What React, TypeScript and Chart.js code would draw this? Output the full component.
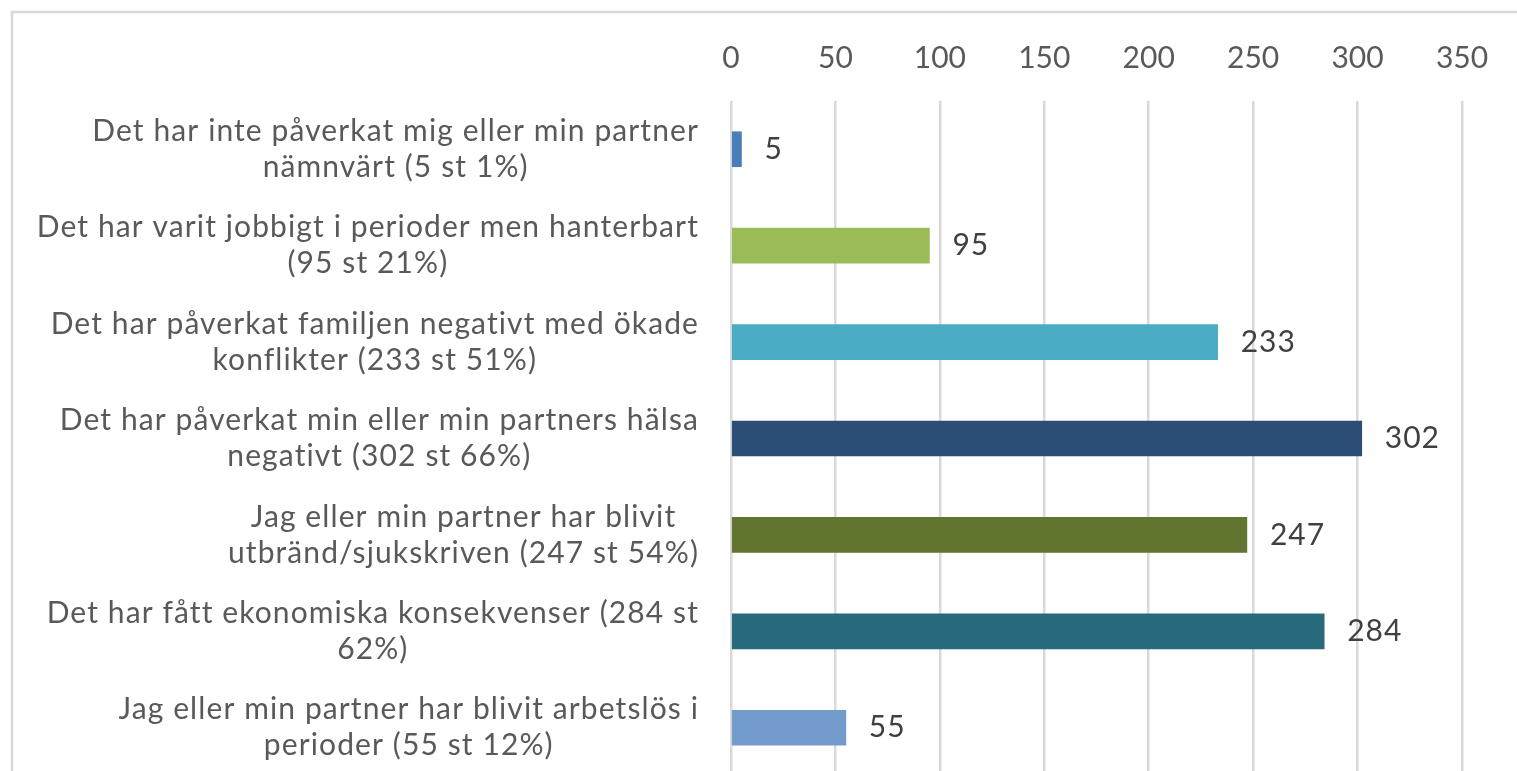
import React, { useEffect, useRef } from "react";
import { Chart, registerables } from "chart.js";

Chart.register(...registerables);

const categories: string[][] = [
  ["Det har inte påverkat mig eller min partner", "nämnvärt (5 st 1%)"],
  ["Det har varit jobbigt i perioder men hanterbart", "(95 st 21%)"],
  ["Det har påverkat familjen negativt med ökade", "konflikter (233 st 51%)"],
  ["Det har påverkat min eller min partners hälsa", "negativt (302 st 66%)"],
  ["Jag eller min partner har blivit", "utbränd/sjukskriven (247 st 54%)"],
  ["Det har fått ekonomiska konsekvenser (284 st", "62%)"],
  ["Jag eller min partner har blivit arbetslös i", "perioder (55 st 12%)"],
];

const values: number[] = [5, 95, 233, 302, 247, 284, 55];

const barColors: string[] = [
  "#4A7EBB",
  "#9BBB59",
  "#4BACC6",
  "#2C4D75",
  "#5F7530",
  "#276A7C",
  "#729ACA",
];

const xMin = 0;
const xMax = 350;
const xStep = 50;

const FONT = "Lato, 'Open Sans', sans-serif";
const FONT_SIZE = 30;

const framePlugin = {
  id: "frame",
  beforeDraw(chart: any) {
    const ctx = chart.ctx;
    ctx.save();
    ctx.strokeStyle = "#D9D9D9";
    ctx.lineWidth = 2.5;
    ctx.beginPath();
    ctx.moveTo(12, chart.height + 5);
    ctx.lineTo(12, 12);
    ctx.lineTo(chart.width + 5, 12);
    ctx.stroke();
    ctx.restore();
  },
};

const categoryLabelPlugin = {
  id: "categoryLabels",
  afterDraw(chart: any) {
    const ctx = chart.ctx;
    const yScale = chart.scales.y;
    const labels = chart.data.labels as string[][];
    const rightEdge = chart.chartArea.left - 32;
    const lineH = 36;
    ctx.save();
    ctx.font = `${FONT_SIZE}px ${FONT}`;
    (ctx as any).letterSpacing = "1.1px";
    ctx.fillStyle = "#595959";
    ctx.textAlign = "center";
    ctx.textBaseline = "middle";
    labels.forEach((lines, i) => {
      const yc = yScale.getPixelForValue(i);
      const maxW = Math.max(...lines.map((l) => ctx.measureText(l).width));
      const cx = rightEdge - maxW / 2;
      const startY = yc - ((lines.length - 1) * lineH) / 2;
      lines.forEach((l, j) => ctx.fillText(l, cx, startY + j * lineH));
    });
    ctx.restore();
  },
};

const valueLabelPlugin = {
  id: "valueLabels",
  afterDatasetsDraw(chart: any) {
    const ctx = chart.ctx;
    const meta = chart.getDatasetMeta(0);
    const data = chart.data.datasets[0].data as number[];
    ctx.save();
    ctx.font = `${FONT_SIZE}px ${FONT}`;
    (ctx as any).letterSpacing = "1px";
    ctx.fillStyle = "#404040";
    ctx.textAlign = "left";
    ctx.textBaseline = "middle";
    meta.data.forEach((bar: any, i: number) => {
      ctx.fillText(String(data[i]), bar.x + 23, bar.y);
    });
    ctx.restore();
  },
};

export default function App() {
  const canvasRef = useRef<HTMLCanvasElement | null>(null);

  useEffect(() => {
    if (!canvasRef.current) return;
    const chart = new Chart(canvasRef.current, {
      type: "bar",
      data: {
        labels: categories,
        datasets: [
          {
            data: values,
            backgroundColor: barColors,
            borderWidth: 0,
            barThickness: 35,
          },
        ],
      },
      options: {
        indexAxis: "y",
        responsive: false,
        animation: false,
        devicePixelRatio: 1,
        layout: {
          padding: { left: 731, right: 55, top: 12, bottom: 24 },
        },
        plugins: {
          legend: { display: false },
          tooltip: { enabled: false },
          title: { display: false },
        },
        scales: {
          x: {
            position: "top",
            min: xMin,
            max: xMax,
            ticks: {
              stepSize: xStep,
              color: "#595959",
              font: { family: FONT, size: FONT_SIZE },
              padding: 25,
            },
            grid: {
              color: "#D9D9D9",
              lineWidth: 2.5,
              drawTicks: false,
            },
            border: { display: false },
            afterFit: (scale: any) => {
              scale.height = 89;
            },
          },
          y: {
            display: false,
            grid: { display: false },
          },
        },
      },
      plugins: [framePlugin, categoryLabelPlugin, valueLabelPlugin],
    });
    return () => chart.destroy();
  }, []);

  return (
    <div
      style={{
        position: "fixed",
        left: 0,
        top: 0,
        width: 1517,
        height: 771,
        overflow: "hidden",
        background: "#ffffff",
      }}
    >
      <canvas
        ref={canvasRef}
        width={1517}
        height={800}
        style={{ display: "block", width: 1517, height: 800 }}
      />
    </div>
  );
}
